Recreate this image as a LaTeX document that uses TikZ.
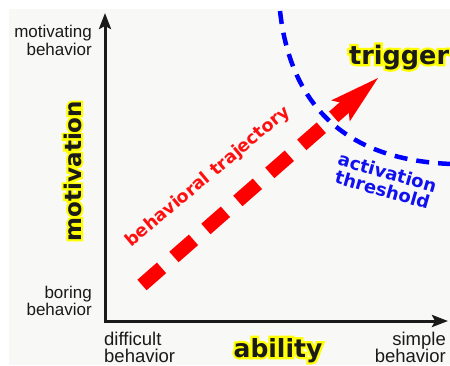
\documentclass[tikz,border=0pt]{standalone}
\usepackage{fontspec}
\setmainfont{Liberation Sans}
\newfontfamily\vfont{DejaVu Sans}
\newfontfamily\glowfont{DejaVu Sans Bold}[FakeBold=18]
\usetikzlibrary{arrows.meta,calc}
\definecolor{bgcol}{HTML}{F8F8F6}
\definecolor{glowc}{HTML}{FFFF00}
\definecolor{inkc}{HTML}{1A1A1A}
\definecolor{trajred}{HTML}{FF0000}
\definecolor{textred}{HTML}{FF1010}
\definecolor{thrblue}{HTML}{0000FF}
\definecolor{textblue}{HTML}{1010F0}
\newcommand{\glowlabel}[5]{% name, at, options, size, text
  \node[#3, font=\glowfont\fontsize{#4}{#4}\selectfont, text=glowc] (#1-glow) at (#2) {#5};
  \node[#3, font=\vfont\bfseries\fontsize{#4}{#4}\selectfont, text=inkc] (#1) at (#2) {#5};}
\begin{document}
\begin{tikzpicture}[x=1pt,y=-1pt,
  lbl/.style={font=\fontsize{17}{17}\selectfont, text=inkc, inner sep=0},
  lblb/.style={font=\fontsize{18.5}{18.5}\selectfont, text=inkc, inner sep=0},
  big/.style={inner sep=0},
  axis/.style={line width=3pt, draw=inkc, line join=miter},
  trajectory/.style={draw=trajred, line width=14pt, dash pattern=on 26pt off 16.5pt},
  threshold/.style={draw=thrblue, line width=4.5pt, dash pattern=on 13pt off 9pt},
  redtext/.style={font=\vfont\bfseries\fontsize{17.5}{17.5}\selectfont, text=textred, inner sep=0},
  bluetext/.style={font=\vfont\bfseries\fontsize{18}{18}\selectfont, text=textblue, inner sep=0, align=center}]
\useasboundingbox (0,0) rectangle (450,365);
\fill[white] (0,0) rectangle (450,365);
\fill[bgcol] (9,9) rectangle (450,365);
\begin{scope}
\clip (9,9) rectangle (450,365);
% threshold curve
\coordinate (b0) at (280,11);
\coordinate (b1) at (290,100);
\coordinate (b2) at (340,160);
\coordinate (b3) at (452,164);
\draw[threshold] (b0) .. controls (b1) and (b2) .. (b3);
% axes
\coordinate (o) at (105,321);
\coordinate (ytop) at (105,13);
\coordinate (xend) at (448,321);
\draw[axis, {Stealth[length=16pt,width=12pt,inset=3pt]}-{Stealth[length=16pt,width=12pt,inset=3pt]}] (ytop) -- (o) -- (xend);
% trajectory arrow
\coordinate (s) at (142,285);
\coordinate (t) at (378,78);
\coordinate (hb) at ($(s)!264pt!(t)$);
\coordinate (hn) at ($(s)!274pt!(t)$);
\coordinate (de) at ($(s)!281pt!(t)$);
\draw[trajectory] (s) -- (de);
\fill[trajred] (t) -- ($(hb)!14pt!90:(t)$) -- (hn) -- ($(hb)!14pt!-90:(t)$) -- cycle;
% side labels
\node[lbl, anchor=base east] (mb1) at (92,37) {motivating};
\node[lbl, anchor=base east] (mb2) at (92,55) {behavior};
\node[lbl, anchor=base east] (bb1) at (92,298) {boring};
\node[lbl, anchor=base east] (bb2) at (92,315) {behavior};
\node[lblb, anchor=base west] (db1) at (104,345) {difficult};
\node[lblb, anchor=base west] (db2) at (104,362) {behavior};
\node[lblb, anchor=base east] (sb1) at (446,345) {simple};
\node[lblb, anchor=base east] (sb2) at (446,362) {behavior};
% big glowing labels
\glowlabel{mot}{72.5,171}{big, rotate=90}{23}{motivation}
\glowlabel{abil}{278,357}{big, anchor=base}{25}{ability}
\glowlabel{trig}{349,64}{big, anchor=base west}{25.5}{trigger}
% slanted labels
\node[redtext, rotate=40] (bt) at (208,177) {behavioral trajectory};
\node[bluetext, rotate=-16] (at) at (385,181) {activation\\threshold};
\end{scope}
\end{tikzpicture}
\end{document}
